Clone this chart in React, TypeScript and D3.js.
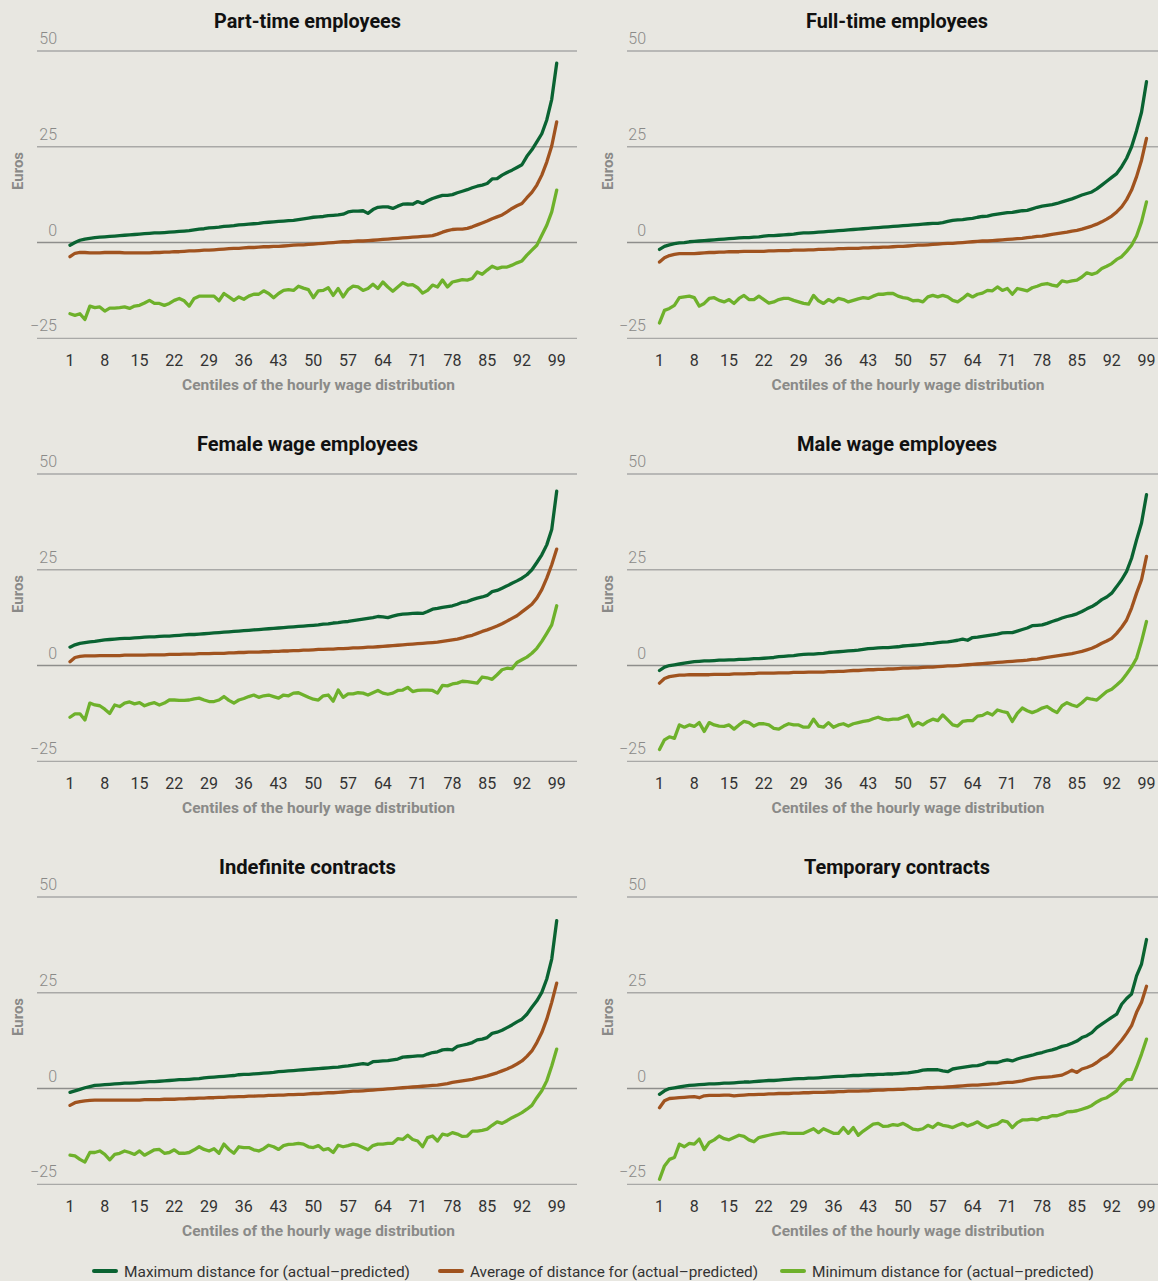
import React from "react";
import * as d3 from "d3";

// ---------- DATA ----------
const centiles: number[] = d3.range(1, 100);
const xTickValues = [1, 8, 15, 22, 29, 36, 43, 50, 57, 64, 71, 78, 85, 92, 99];
const yTickValues = [-25, 0, 25, 50];
const seriesNames = [
  "Maximum distance for (actual\u2013predicted)",
  "Average of distance for (actual\u2013predicted)",
  "Minimum distance for (actual\u2013predicted)",
];
const panelTitles = [
  "Part-time employees",
  "Full-time employees",
  "Female wage employees",
  "Male wage employees",
  "Indefinite contracts",
  "Temporary contracts",
];

const partTimeMax = [-0.7,0.0,0.6,0.9,1.1,1.3,1.4,1.5,1.6,1.7,1.8,1.9,2.0,2.1,2.2,2.3,2.4,2.5,2.5,2.6,2.7,2.8,2.9,3.0,3.1,3.3,3.5,3.6,3.8,3.9,4.0,4.2,4.3,4.4,4.6,4.7,4.8,4.9,5.0,5.2,5.3,5.4,5.5,5.6,5.7,5.8,6.0,6.2,6.4,6.6,6.7,6.8,7.0,7.1,7.2,7.4,8.0,8.2,8.2,8.3,7.6,8.6,9.2,9.3,9.3,8.9,9.5,10.0,10.1,10.0,10.7,10.2,10.9,11.5,11.9,12.3,12.3,12.5,13.0,13.4,13.8,14.3,14.7,15.0,15.4,16.6,16.7,17.6,18.3,18.9,19.6,20.3,22.5,24.2,26.3,28.4,32.0,37.4,46.8];
const partTimeAvg = [-3.7,-2.8,-2.6,-2.6,-2.7,-2.7,-2.7,-2.6,-2.6,-2.6,-2.6,-2.7,-2.7,-2.7,-2.7,-2.7,-2.7,-2.6,-2.6,-2.5,-2.5,-2.4,-2.4,-2.3,-2.2,-2.2,-2.1,-2.0,-2.0,-1.9,-1.8,-1.7,-1.6,-1.5,-1.5,-1.4,-1.3,-1.3,-1.2,-1.1,-1.1,-1.0,-1.0,-0.9,-0.8,-0.7,-0.6,-0.6,-0.5,-0.4,-0.3,-0.2,-0.1,0.0,0.1,0.2,0.2,0.3,0.4,0.4,0.5,0.6,0.7,0.8,0.9,1.0,1.1,1.2,1.3,1.4,1.5,1.6,1.7,1.8,2.2,2.7,3.1,3.4,3.5,3.5,3.7,4.1,4.6,5.1,5.6,6.2,6.7,7.2,8.0,8.9,9.6,10.2,11.7,13.1,15.0,17.6,21.0,25.2,31.5];
const partTimeMin = [-18.6,-19.0,-18.6,-20.1,-16.6,-17.0,-16.8,-17.9,-17.1,-17.1,-17.0,-16.8,-17.2,-16.6,-16.4,-15.8,-15.1,-15.9,-15.9,-16.4,-15.9,-15.1,-14.6,-15.2,-16.6,-14.6,-14.0,-14.0,-14.0,-14.0,-15.2,-13.3,-14.2,-15.1,-14.2,-14.8,-14.0,-13.5,-13.5,-12.6,-13.3,-14.4,-13.3,-12.5,-12.3,-12.5,-11.4,-11.9,-12.3,-14.4,-12.6,-12.5,-11.8,-13.8,-12.0,-14.2,-12.3,-11.4,-11.6,-12.5,-12.0,-10.9,-12.0,-10.3,-11.6,-12.7,-11.6,-10.5,-11.1,-11.0,-11.8,-13.2,-12.5,-11.1,-11.6,-9.8,-11.6,-10.3,-10.0,-9.7,-9.8,-9.4,-7.7,-8.3,-7.2,-6.2,-6.8,-6.4,-6.4,-5.9,-5.3,-4.8,-3.3,-2.0,-0.7,1.9,4.5,8.0,13.7];

const fullTimeMax = [-1.8,-1.0,-0.6,-0.3,-0.1,0.0,0.2,0.3,0.4,0.5,0.6,0.7,0.8,0.9,1.0,1.1,1.2,1.3,1.3,1.4,1.5,1.7,1.8,1.8,1.9,2.0,2.1,2.2,2.4,2.5,2.5,2.6,2.7,2.8,2.9,3.0,3.1,3.2,3.3,3.4,3.5,3.6,3.7,3.8,3.9,4.0,4.1,4.2,4.3,4.4,4.5,4.6,4.7,4.8,4.9,5.0,5.0,5.2,5.5,5.8,5.9,6.0,6.2,6.3,6.6,6.8,6.9,7.2,7.4,7.6,7.8,7.9,8.1,8.3,8.4,8.8,9.2,9.5,9.7,9.9,10.2,10.6,11.0,11.4,11.9,12.4,12.8,13.2,14.0,15.0,16.0,17.0,18.0,19.8,22.0,25.0,29.2,34.0,42.0];
const fullTimeAvg = [-5.1,-4.0,-3.4,-3.1,-2.9,-2.9,-2.9,-2.9,-2.8,-2.7,-2.6,-2.6,-2.5,-2.5,-2.4,-2.4,-2.4,-2.3,-2.3,-2.3,-2.3,-2.3,-2.2,-2.2,-2.1,-2.1,-2.1,-2.0,-2.0,-2.0,-1.9,-1.9,-1.8,-1.8,-1.7,-1.7,-1.6,-1.6,-1.5,-1.5,-1.5,-1.4,-1.4,-1.3,-1.3,-1.2,-1.2,-1.1,-1.0,-1.0,-0.9,-0.8,-0.7,-0.7,-0.6,-0.5,-0.4,-0.3,-0.2,-0.2,-0.1,0.0,0.1,0.2,0.3,0.4,0.4,0.5,0.6,0.7,0.8,0.9,1.0,1.1,1.3,1.4,1.6,1.7,1.9,2.1,2.3,2.5,2.7,3.0,3.2,3.5,3.9,4.3,4.8,5.4,6.1,6.9,8.0,9.3,11.2,13.7,17.2,21.5,27.2];
const fullTimeMin = [-21.0,-17.7,-17.2,-16.4,-14.4,-14.2,-14.0,-14.4,-16.6,-15.9,-14.6,-14.4,-15.1,-15.5,-14.9,-15.9,-14.6,-13.8,-14.9,-14.9,-14.0,-14.9,-15.8,-15.5,-14.9,-14.6,-14.6,-15.1,-15.5,-15.9,-16.1,-13.8,-15.2,-15.9,-14.9,-15.5,-14.6,-14.9,-15.5,-15.1,-14.7,-14.4,-14.6,-14.0,-13.5,-13.5,-13.3,-13.3,-14.0,-14.4,-14.6,-15.2,-15.1,-15.5,-14.2,-13.8,-14.2,-13.8,-14.2,-15.1,-15.5,-14.6,-13.5,-14.2,-13.5,-13.2,-12.5,-12.6,-11.6,-12.5,-12.0,-13.5,-12.0,-12.3,-12.6,-11.8,-11.4,-10.9,-10.7,-11.1,-11.4,-10.0,-10.3,-10.0,-9.8,-9.0,-7.9,-8.3,-7.9,-6.8,-6.2,-5.5,-4.4,-3.7,-2.3,-0.7,1.7,5.4,10.6];

const femaleMax = [4.8,5.4,5.8,6.0,6.2,6.3,6.5,6.7,6.8,6.9,7.0,7.1,7.1,7.2,7.3,7.4,7.5,7.5,7.6,7.7,7.7,7.8,7.9,8.0,8.1,8.1,8.2,8.3,8.4,8.5,8.6,8.7,8.8,8.9,9.0,9.1,9.2,9.3,9.4,9.5,9.6,9.7,9.8,9.9,10.0,10.1,10.2,10.3,10.4,10.5,10.6,10.8,10.9,11.1,11.2,11.4,11.5,11.7,11.9,12.1,12.3,12.5,12.8,12.7,12.5,12.9,13.2,13.4,13.5,13.6,13.7,13.6,14.1,14.7,14.9,15.2,15.4,15.6,16.0,16.5,16.7,17.2,17.6,17.9,18.3,19.3,19.6,20.2,20.8,21.5,22.1,22.8,23.7,25.0,26.9,28.9,31.5,35.5,45.5];
const femaleAvg = [1.0,2.1,2.4,2.5,2.5,2.5,2.6,2.6,2.6,2.6,2.6,2.7,2.7,2.7,2.7,2.7,2.8,2.8,2.8,2.8,2.9,2.9,2.9,3.0,3.0,3.0,3.1,3.1,3.1,3.2,3.2,3.2,3.3,3.3,3.4,3.4,3.5,3.5,3.5,3.6,3.6,3.7,3.7,3.8,3.8,3.9,3.9,4.0,4.0,4.1,4.2,4.2,4.3,4.3,4.4,4.4,4.5,4.6,4.6,4.7,4.8,4.8,4.9,5.0,5.1,5.2,5.3,5.4,5.5,5.6,5.7,5.8,5.9,6.0,6.1,6.3,6.5,6.7,6.9,7.2,7.6,7.9,8.4,8.9,9.3,9.8,10.3,10.9,11.6,12.3,13.0,14.0,15.0,16.0,17.6,19.8,22.8,26.3,30.4];
const femaleMin = [-13.5,-12.6,-12.6,-14.2,-9.8,-10.3,-10.5,-11.4,-12.5,-10.3,-10.7,-9.8,-9.5,-10.0,-9.7,-10.5,-10.0,-9.7,-10.3,-9.8,-9.0,-9.0,-9.1,-9.1,-9.0,-8.7,-8.5,-9.0,-9.4,-9.4,-9.0,-8.1,-9.1,-9.8,-9.0,-8.6,-8.1,-7.7,-8.3,-7.9,-7.7,-8.1,-8.5,-7.7,-7.9,-7.2,-7.1,-7.7,-8.3,-8.8,-9.0,-7.9,-7.7,-9.3,-6.4,-8.3,-7.4,-7.4,-7.1,-7.2,-7.7,-7.1,-6.5,-7.2,-7.5,-7.2,-6.5,-6.4,-5.7,-6.8,-6.5,-6.4,-6.4,-6.5,-7.2,-5.2,-5.3,-4.8,-4.6,-4.1,-4.2,-4.4,-4.6,-3.0,-3.2,-3.6,-2.4,-1.1,-0.7,-0.8,0.8,1.5,2.2,3.2,4.5,6.3,8.4,10.6,15.6];

const maleMax = [-1.3,-0.4,0.0,0.2,0.4,0.6,0.8,1.0,1.1,1.2,1.2,1.3,1.4,1.4,1.5,1.5,1.6,1.6,1.7,1.8,1.8,1.9,2.0,2.1,2.3,2.4,2.5,2.6,2.8,2.9,3.0,3.0,3.1,3.2,3.4,3.5,3.6,3.7,3.8,3.9,4.0,4.2,4.4,4.5,4.6,4.7,4.7,4.8,4.9,5.1,5.2,5.3,5.4,5.5,5.7,5.8,6.0,6.1,6.2,6.4,6.6,6.9,6.6,7.3,7.4,7.6,7.8,8.0,8.2,8.5,8.6,8.6,9.0,9.4,9.8,10.4,10.5,10.6,11.0,11.5,11.9,12.4,12.8,13.1,13.5,14.1,14.8,15.4,16.2,17.2,17.9,18.9,20.6,22.4,24.6,28.0,32.8,37.2,44.6];
const maleAvg = [-4.6,-3.4,-2.9,-2.7,-2.5,-2.5,-2.4,-2.4,-2.4,-2.4,-2.4,-2.3,-2.3,-2.3,-2.3,-2.2,-2.2,-2.2,-2.1,-2.1,-2.0,-2.0,-2.0,-2.0,-1.9,-1.9,-1.9,-1.8,-1.8,-1.8,-1.7,-1.7,-1.7,-1.7,-1.6,-1.6,-1.5,-1.5,-1.4,-1.3,-1.3,-1.2,-1.1,-1.1,-1.0,-1.0,-0.9,-0.9,-0.8,-0.7,-0.7,-0.6,-0.6,-0.5,-0.4,-0.4,-0.3,-0.2,-0.1,-0.1,0.0,0.1,0.2,0.3,0.4,0.5,0.6,0.7,0.8,0.9,1.0,1.1,1.2,1.3,1.4,1.6,1.7,1.9,2.1,2.3,2.5,2.7,2.9,3.1,3.4,3.7,4.1,4.5,5.1,5.8,6.4,7.1,8.4,10.0,11.9,15.0,18.9,22.4,28.5];
const maleMin = [-21.9,-19.4,-18.6,-19.0,-15.5,-16.1,-15.5,-15.9,-14.9,-17.2,-14.9,-15.5,-15.8,-15.9,-15.5,-16.6,-15.5,-14.6,-14.9,-15.8,-15.2,-15.2,-15.5,-16.4,-16.6,-15.8,-15.2,-15.5,-15.5,-16.1,-16.1,-14.0,-15.8,-16.1,-14.9,-16.1,-15.5,-15.2,-15.8,-15.2,-14.9,-14.6,-14.4,-13.9,-13.5,-14.0,-14.2,-14.0,-14.0,-13.5,-13.0,-15.8,-14.9,-15.5,-14.6,-14.0,-14.4,-12.9,-14.2,-15.5,-15.8,-14.6,-14.4,-14.4,-13.2,-13.0,-12.3,-12.9,-11.6,-12.0,-12.3,-14.6,-12.5,-11.1,-11.8,-12.3,-11.8,-11.1,-10.7,-11.6,-12.3,-10.5,-9.7,-10.3,-10.7,-9.7,-8.5,-8.8,-9.0,-7.9,-6.8,-6.2,-5.1,-3.9,-2.2,-0.4,1.9,6.3,11.5];

const indefiniteMax = [-1.0,-0.6,-0.2,0.2,0.5,0.8,0.9,1.0,1.1,1.2,1.3,1.4,1.4,1.5,1.6,1.7,1.8,1.8,1.9,2.0,2.1,2.2,2.3,2.3,2.4,2.5,2.6,2.8,2.9,3.0,3.1,3.2,3.3,3.4,3.6,3.7,3.7,3.8,3.9,4.0,4.1,4.2,4.4,4.5,4.6,4.7,4.8,4.9,5.0,5.1,5.2,5.3,5.4,5.5,5.6,5.8,5.9,6.1,6.3,6.5,6.3,7.0,7.1,7.2,7.3,7.5,7.7,8.2,8.3,8.4,8.5,8.5,9.0,9.4,9.6,10.1,10.2,10.1,11.0,11.3,11.6,12.0,12.7,12.9,13.3,14.4,14.7,15.2,15.9,16.6,17.4,18.1,19.4,21.2,22.9,25.1,28.6,33.8,43.8];
const indefiniteAvg = [-4.4,-3.7,-3.4,-3.2,-3.1,-3.0,-3.0,-3.0,-3.0,-3.0,-3.0,-3.0,-3.0,-3.0,-3.0,-2.9,-2.9,-2.9,-2.9,-2.8,-2.8,-2.8,-2.7,-2.7,-2.6,-2.6,-2.5,-2.5,-2.4,-2.4,-2.3,-2.3,-2.2,-2.2,-2.1,-2.1,-2.0,-2.0,-1.9,-1.9,-1.8,-1.8,-1.7,-1.7,-1.6,-1.6,-1.5,-1.5,-1.4,-1.3,-1.3,-1.2,-1.1,-1.1,-1.0,-0.9,-0.8,-0.7,-0.7,-0.6,-0.5,-0.4,-0.3,-0.2,-0.1,0.0,0.1,0.2,0.3,0.4,0.5,0.6,0.7,0.8,0.9,1.1,1.3,1.6,1.8,2.0,2.2,2.4,2.7,3.0,3.3,3.7,4.1,4.6,5.1,5.7,6.4,7.2,8.4,9.8,12.0,14.6,18.1,22.5,27.5];
const indefiniteMin = [-17.4,-17.6,-18.5,-19.2,-16.7,-16.7,-16.3,-17.2,-18.6,-17.2,-16.9,-16.3,-16.7,-17.2,-16.3,-17.4,-16.7,-16.0,-15.9,-16.9,-16.7,-16.0,-16.9,-16.9,-16.7,-16.0,-15.2,-15.9,-16.3,-15.7,-16.9,-14.5,-15.9,-16.9,-15.2,-15.4,-15.4,-16.0,-16.3,-15.7,-14.8,-15.2,-15.9,-14.9,-14.6,-14.5,-14.3,-14.5,-15.2,-15.4,-14.9,-16.0,-15.7,-16.7,-14.8,-15.2,-14.9,-14.5,-14.8,-15.4,-16.0,-14.9,-14.5,-14.5,-14.3,-14.3,-13.1,-13.3,-12.2,-13.3,-13.7,-15.2,-12.8,-12.4,-13.7,-11.9,-12.2,-11.5,-11.9,-12.5,-12.4,-11.1,-11.1,-10.9,-10.6,-9.6,-8.7,-9.1,-8.4,-7.6,-7.0,-6.3,-5.4,-4.4,-2.4,-0.6,2.0,5.9,10.3];

const temporaryMax = [-1.5,-0.6,0.0,0.2,0.4,0.6,0.8,0.9,1.0,1.1,1.2,1.2,1.3,1.4,1.4,1.5,1.6,1.7,1.7,1.8,1.9,2.0,2.1,2.1,2.2,2.3,2.4,2.5,2.6,2.6,2.7,2.7,2.8,2.9,3.0,3.1,3.2,3.2,3.3,3.4,3.4,3.5,3.6,3.6,3.7,3.7,3.8,3.8,3.9,4.0,4.1,4.3,4.5,4.8,4.9,4.9,4.9,4.6,4.4,5.1,5.3,5.5,5.7,5.9,6.0,6.3,6.8,6.8,6.8,7.2,7.5,7.2,7.7,8.1,8.4,8.7,9.1,9.4,9.8,10.1,10.5,11.0,11.3,11.8,12.4,13.3,13.8,14.6,15.9,16.8,17.7,18.6,19.4,22.0,23.5,24.7,29.4,32.5,38.9];
const temporaryAvg = [-5.0,-3.2,-2.6,-2.5,-2.4,-2.3,-2.2,-2.1,-2.4,-1.9,-1.8,-1.8,-1.8,-1.7,-1.7,-1.9,-1.8,-1.7,-1.6,-1.6,-1.5,-1.5,-1.4,-1.4,-1.3,-1.3,-1.3,-1.2,-1.2,-1.1,-1.1,-1.0,-1.0,-1.0,-0.9,-0.9,-0.8,-0.8,-0.7,-0.7,-0.7,-0.6,-0.6,-0.5,-0.4,-0.4,-0.3,-0.3,-0.2,-0.2,-0.1,0.0,0.0,0.1,0.2,0.2,0.3,0.3,0.4,0.5,0.6,0.7,0.8,0.9,0.9,1.0,1.1,1.2,1.3,1.5,1.6,1.6,1.8,2.0,2.3,2.6,2.8,2.9,3.0,3.1,3.3,3.5,4.1,4.8,4.2,5.1,5.5,6.0,6.8,7.8,8.5,9.6,11.1,12.6,14.4,16.4,19.9,22.5,26.7];
const temporaryMin = [-23.7,-20.2,-18.5,-18.0,-14.5,-15.2,-14.3,-14.5,-13.2,-15.9,-14.1,-13.4,-12.4,-13.1,-13.4,-12.8,-12.2,-12.5,-13.4,-13.9,-12.8,-12.5,-12.2,-11.9,-11.7,-11.5,-11.7,-11.7,-11.7,-11.7,-11.1,-10.5,-11.5,-10.5,-11.1,-11.7,-11.7,-10.2,-11.7,-10.2,-12.2,-11.1,-10.2,-9.3,-9.1,-9.9,-9.8,-9.4,-9.6,-9.1,-9.8,-10.6,-10.8,-10.5,-9.6,-10.2,-9.1,-9.6,-9.8,-10.2,-9.6,-9.1,-9.8,-9.3,-8.7,-9.6,-10.2,-9.6,-9.3,-8.4,-8.7,-10.2,-8.9,-8.2,-8.2,-8.0,-8.2,-7.6,-7.6,-7.1,-7.1,-6.7,-6.1,-6.0,-5.8,-5.4,-5.0,-4.4,-3.5,-2.8,-2.4,-1.5,-0.6,1.1,2.3,2.4,5.5,9.0,12.9];

const panelSeries = [
  [partTimeMax, partTimeAvg, partTimeMin],
  [fullTimeMax, fullTimeAvg, fullTimeMin],
  [femaleMax, femaleAvg, femaleMin],
  [maleMax, maleAvg, maleMin],
  [indefiniteMax, indefiniteAvg, indefiniteMin],
  [temporaryMax, temporaryAvg, temporaryMin],
];

// ---------- STYLE / LAYOUT ----------
const W = 1158;
const H = 1281;
const BG = "#e8e7e1";
const COLORS = ["#0a6332", "#a0531f", "#6eb12b"];
const GRID = "#a9a9a7";
const ZERO = "#8e8e8c";
const FONT = "Roboto, 'Liberation Sans', sans-serif";

const colGridX0 = [37, 627];
const colGridX1 = [577, 1158];
const colPlotX = [[70, 556.7], [659.5, 1146.5]];
const colYLabelX = [57, 646];
const colEurosX = [18, 608];
const colTitleX = [307.5, 897];
const colAxisTitleX = [318.5, 908];
const titleWidths = [187, 182, 221, 200, 177, 186];
const ROW_STEP = 423;
const Y_TOP = 51;
const Y_BOTTOM = 338.3;

function Panel({ index }: { index: number }) {
  const col = index % 2;
  const row = Math.floor(index / 2);
  const dy = row * ROW_STEP;
  const x = d3.scaleLinear().domain([1, 99]).range(colPlotX[col]);
  const y = d3.scaleLinear().domain([-25, 50]).range([Y_BOTTOM + dy, Y_TOP + dy]);
  const line = d3
    .line<number>()
    .x((_, i) => x(centiles[i]))
    .y((d) => y(d))
    .curve(d3.curveLinear);
  const series = panelSeries[index];
  return (
    <g>
      {yTickValues.map((t) => (
        <g key={t}>
          <line
            x1={colGridX0[col]}
            x2={colGridX1[col]}
            y1={y(t)}
            y2={y(t)}
            stroke={t === 0 ? ZERO : GRID}
            strokeWidth={t === 0 ? 1.6 : 1.3}
          />
          <text
            x={colYLabelX[col]}
            y={y(t) - 7}
            textAnchor="end"
            fontFamily={FONT}
            fontSize={16}
            fontWeight={300}
            fill="#8a8a88"
          >
            {t < 0 ? "\u2212" + Math.abs(t) : String(t)}
          </text>
        </g>
      ))}
      {xTickValues.map((t) => (
        <text
          key={t}
          x={x(t)}
          y={Y_BOTTOM + dy + 27.5}
          textAnchor="middle"
          fontFamily={FONT}
          fontSize={16}
          fill="#333"
        >
          {t}
        </text>
      ))}
      <text
        x={colAxisTitleX[col]}
        y={Y_BOTTOM + dy + 52}
        textAnchor="middle"
        fontFamily={FONT}
        fontSize={15}
        fontWeight={700}
        fill="#8a8a88"
        textLength={273}
        lengthAdjust="spacingAndGlyphs"
      >
        Centiles of the hourly wage distribution
      </text>
      <text
        transform={`translate(${colEurosX[col] + 5},${171 + dy}) rotate(-90)`}
        textAnchor="middle"
        fontFamily={FONT}
        fontSize={14}
        fontWeight={700}
        fill="#8a8a88"
        textLength={38}
        lengthAdjust="spacingAndGlyphs"
      >
        Euros
      </text>
      <text
        x={colTitleX[col]}
        y={28 + dy}
        textAnchor="middle"
        fontFamily={FONT}
        fontSize={21}
        fontWeight={700}
        fill="#111"
        textLength={titleWidths[index]}
        lengthAdjust="spacingAndGlyphs"
      >
        {panelTitles[index]}
      </text>
      {series.map((s, si) => (
        <path
          key={si}
          d={line(s) || ""}
          fill="none"
          stroke={COLORS[si]}
          strokeWidth={3.3}
          strokeLinejoin="round"
          strokeLinecap="round"
        />
      ))}
    </g>
  );
}

const legendSwatchX = [92, 438, 780];
const legendTextWidths = [286, 288, 282];

export default function App() {
  return (
    <svg
      width={W}
      height={H}
      style={{ position: "absolute", left: 0, top: 0, display: "block" }}
    >
      <rect x={0} y={0} width={W} height={H} fill={BG} />
      {panelTitles.map((_, i) => (
        <Panel key={i} index={i} />
      ))}
      {seriesNames.map((name, i) => (
        <g key={name}>
          <line
            x1={legendSwatchX[i] + 2}
            x2={legendSwatchX[i] + 24}
            y1={1271}
            y2={1271}
            stroke={COLORS[i]}
            strokeWidth={4}
            strokeLinecap="round"
          />
          <text
            x={legendSwatchX[i] + 32}
            y={1277}
            fontFamily={FONT}
            fontSize={15}
            fill="#333"
            textLength={legendTextWidths[i]}
            lengthAdjust="spacingAndGlyphs"
          >
            {name}
          </text>
        </g>
      ))}
    </svg>
  );
}
